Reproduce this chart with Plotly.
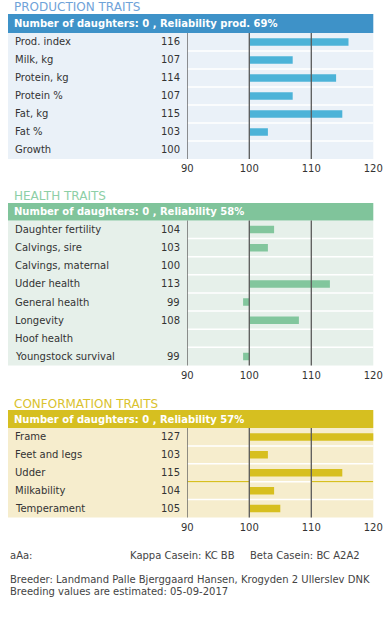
import plotly.graph_objects as go

W, H = 388, 626

# ---------------- data ----------------
prod_traits = ["Prod. index", "Milk, kg", "Protein, kg", "Protein %", "Fat, kg", "Fat %", "Growth"]
prod_values = [116, 107, 114, 107, 115, 103, 100]

health_traits = ["Daughter fertility", "Calvings, sire", "Calvings, maternal", "Udder health",
                 "General health", "Longevity", "Hoof health", "Youngstock survival"]
health_values = [104, 103, 100, 113, 99, 108, None, 99]

conf_traits = ["Frame", "Feet and legs", "Udder", "Milkability", "Temperament"]
conf_values = [127, 103, 115, 104, 105]

tick_vals = [90, 100, 110, 120]
tick_text = ["90", "100", "110", "120"]
ref_lines = [90, 100, 110]
base_value = 100

section_titles = ["PRODUCTION TRAITS", "HEALTH TRAITS", "CONFORMATION TRAITS"]
header_texts = ["Number of daughters: 0 , Reliability prod. 69%",
                "Number of daughters: 0 , Reliability 58%",
                "Number of daughters: 0 , Reliability 57%"]

footer_casein = ["aAa:", "Kappa Casein: KC BB", "Beta Casein: BC A2A2"]
footer_lines = ["Breeder: Landmand Palle Bjerggaard Hansen, Krogyden 2 Ullerslev DNK",
                "Breeding values are estimated: 05-09-2017"]

# ---------------- style ----------------
FONT = "Verdana, DejaVu Sans, sans-serif"
panels = [
    dict(traits=prod_traits, values=prod_values, title_y=7.5, head=(14, 33), rows=(33, 159),
         bar="#4cb3d8", head_col="#3e92c8", bg="#eaf1f8", title_col="#6fa3d9"),
    dict(traits=health_traits, values=health_values, title_y=196, head=(203, 220.5), rows=(220.5, 365.5),
         bar="#82c69d", head_col="#80c49b", bg="#e6f0ea", title_col="#8dcfa6"),
    dict(traits=conf_traits, values=conf_values, title_y=403.5, head=(410, 428), rows=(428, 517.5),
         bar="#d7bf1f", head_col="#d6bf20", bg="#f6edcd", title_col="#d9c22e"),
]

X_LEFT, X_RIGHT = 8, 373.3
AX_LEFT = 187.3
LABEL_X = 13
VALUE_X = 182


def xp(px):
    return px / W


def yp(py):
    return 1 - py / H


fig = go.Figure()
shapes = []
annotations = []
layout_axes = {}

for i, p in enumerate(panels, start=1):
    sfx = "" if i == 1 else str(i)
    xa, ya = "x" + sfx, "y" + sfx
    n = len(p["traits"])

    fig.add_trace(go.Bar(
        orientation="h",
        y=p["traits"],
        x=[(v - base_value) if v is not None else None for v in p["values"]],
        base=base_value,
        width=0.42,
        marker=dict(color=p["bar"], line=dict(width=0)),
        xaxis=xa, yaxis=ya,
        hoverinfo="skip",
        showlegend=False,
    ))

    layout_axes["xaxis" + sfx] = dict(
        domain=[xp(AX_LEFT), xp(X_RIGHT)], range=[90, 120], anchor=ya,
        tickvals=tick_vals, ticktext=tick_text, showgrid=False, zeroline=False,
        showline=False, ticks="", tickfont=dict(size=10, color="#333", family=FONT),
        ticklabelstandoff=2, ticklabeloverflow="allow", automargin=False, fixedrange=True,
    )
    layout_axes["yaxis" + sfx] = dict(
        domain=[yp(p["rows"][1]), yp(p["rows"][0])], anchor=xa,
        type="category", categoryorder="array", categoryarray=p["traits"],
        range=[n - 0.5, -0.5], showticklabels=False, showgrid=False,
        zeroline=False, showline=False, automargin=False, fixedrange=True,
    )

    # panel background
    shapes.append(dict(type="rect", xref="paper", yref=ya + " domain",
                       x0=xp(X_LEFT), x1=xp(X_RIGHT), y0=0, y1=1,
                       fillcolor=p["bg"], line=dict(width=0), layer="below"))
    # header bar
    shapes.append(dict(type="rect", xref="paper", yref="paper",
                       x0=xp(X_LEFT), x1=xp(X_RIGHT), y0=yp(p["head"][1]), y1=yp(p["head"][0]),
                       fillcolor=p["head_col"], line=dict(width=0), layer="below"))
    # row separators
    for k in range(1, n):
        shapes.append(dict(type="line", xref=xa + " domain", yref=ya,
                           x0=0, x1=1, y0=k - 0.5, y1=k - 0.5,
                           line=dict(color="white", width=1.5), layer="below"))
    # reference vertical lines
    for rv in ref_lines:
        shapes.append(dict(type="line", xref=xa, yref=ya + " domain",
                           x0=rv, x1=rv, y0=0, y1=1,
                           line=dict(color="#5a5a5a", width=1.3), layer="above"))

    # section title
    annotations.append(dict(text=section_titles[i - 1], xref="paper", yref="paper",
                            x=xp(LABEL_X - 1), y=yp(p["title_y"]), xanchor="left", yanchor="middle",
                            showarrow=False, font=dict(size=12, color=p["title_col"], family=FONT)))
    # header text
    annotations.append(dict(text="<b>" + header_texts[i - 1] + "</b>", xref="paper", yref="paper",
                            x=xp(LABEL_X - 1), y=yp((p["head"][0] + p["head"][1]) / 2),
                            xanchor="left", yanchor="middle", showarrow=False,
                            font=dict(size=10, color="white", family=FONT)))
    # row labels + values
    for t, v in zip(p["traits"], p["values"]):
        annotations.append(dict(text=t, xref="paper", yref=ya, x=xp(LABEL_X), y=t,
                                xanchor="left", yanchor="middle", showarrow=False,
                                font=dict(size=10, color="#333", family=FONT)))
        if v is not None:
            annotations.append(dict(text=str(v), xref="paper", yref=ya, x=xp(VALUE_X), y=t,
                                    xanchor="right", yanchor="middle", showarrow=False,
                                    font=dict(size=10, color="#333", family=FONT)))

# gold separator under "Udder" in conformation
for x0, x1 in [(90, 100), (110, 120)]:
    shapes.append(dict(type="line", xref="x3", yref="y3", x0=x0, x1=x1, y0=2.5, y1=2.5,
                       line=dict(color=panels[2]["bar"], width=1.2), layer="below"))

# footer
for txt, px in zip(footer_casein, [8, 128.3, 248.3]):
    annotations.append(dict(text=txt, xref="paper", yref="paper", x=xp(px), y=yp(555),
                            xanchor="left", yanchor="middle", showarrow=False,
                            font=dict(size=10, color="#444", family=FONT)))
for txt, py in zip(footer_lines, [579.5, 591.5]):
    annotations.append(dict(text=txt, xref="paper", yref="paper", x=xp(8), y=yp(py),
                            xanchor="left", yanchor="middle", showarrow=False,
                            font=dict(size=10, color="#444", family=FONT)))

fig.update_layout(
    width=W, height=H, autosize=False,
    margin=dict(l=0, r=0, t=0, b=0, pad=0, autoexpand=False),
    paper_bgcolor="white", plot_bgcolor="rgba(0,0,0,0)",
    shapes=shapes, annotations=annotations, barmode="overlay",
    showlegend=False, hovermode=False,
    **layout_axes,
)

# remove the browser's default body margin so the figure fills the window exactly
fig.write_html(
    "out.html",
    config={"displayModeBar": False},
    post_script="document.body.style.margin='0';document.body.style.overflow='hidden';",
)
